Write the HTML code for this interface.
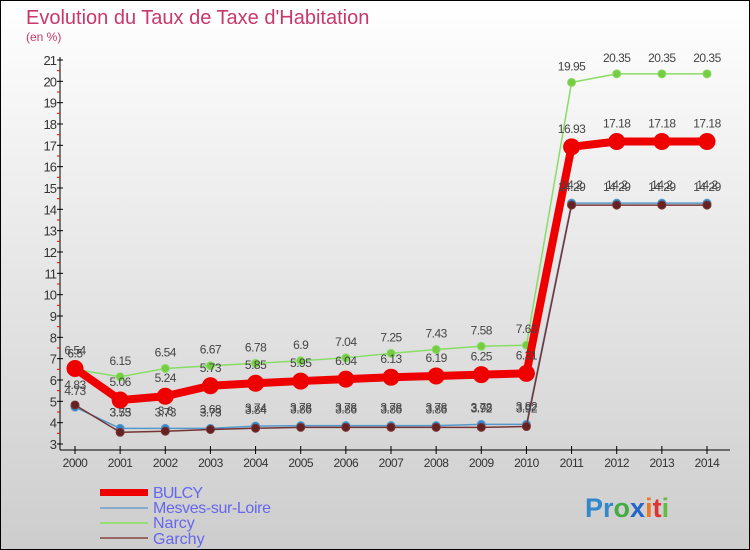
<!DOCTYPE html>
<html><head><meta charset="utf-8"><style>
body{margin:0;width:750px;height:550px;overflow:hidden;font-family:"Liberation Sans",sans-serif}
svg{display:block}
</style></head><body>
<svg id="c" width="750" height="550">
<defs><linearGradient id="bg" x1="0" y1="0" x2="0" y2="1"><stop offset="0" stop-color="#ffffff"/><stop offset="1" stop-color="#cdcdcd"/></linearGradient></defs>
<rect x="0.5" y="0.5" width="749" height="549" fill="url(#bg)" stroke="#000"/>
<text x="26" y="24" font-size="20" fill="#c8386a">Evolution du Taux de Taxe d'Habitation</text>
<text x="26" y="41" font-size="12" fill="#c8386a">(en %)</text>
<g id="axes"></g><g id="series"></g><g id="labels"></g>
<g>
<rect x="100" y="489" width="48" height="7" fill="#ee0000"/>
<text x="153" y="498" font-size="16" fill="#6666ee" textLength="50">BULCY</text>
<rect x="100" y="507" width="48" height="2" fill="#88aacc"/>
<text x="153" y="513" font-size="16" fill="#6666ee" textLength="118">Mesves-sur-Loire</text>
<rect x="100" y="522" width="48" height="2" fill="#99dd77"/>
<text x="153" y="528" font-size="16" fill="#6666ee">Narcy</text>
<rect x="100" y="537" width="48" height="2" fill="#996666"/>
<text x="153" y="544" font-size="16" fill="#6666ee">Garchy</text>
</g>
<text x="585" y="517" font-size="27" font-weight="bold"><tspan fill="#3388cc">Pr</tspan><tspan fill="#44aa44">o</tspan><tspan fill="#2266cc">x</tspan><tspan fill="#ee7722">i</tspan><tspan fill="#dd3333">t</tspan><tspan fill="#66bb44">i</tspan></text>
</svg>
<script>
const years=[2000,2001,2002,2003,2004,2005,2006,2007,2008,2009,2010,2011,2012,2013,2014];
const bulcy=[6.54,5.06,5.24,5.73,5.85,5.95,6.04,6.13,6.19,6.25,6.31,16.93,17.18,17.18,17.18];
const mesves=[4.73,3.73,3.73,3.73,3.84,3.86,3.86,3.86,3.86,3.92,3.92,14.29,14.29,14.29,14.29];
const narcy=[6.5,6.15,6.54,6.67,6.78,6.9,7.04,7.25,7.43,7.58,7.63,19.95,20.35,20.35,20.35];
const garchy=[4.83,3.55,3.6,3.68,3.74,3.78,3.78,3.78,3.78,3.78,3.82,14.2,14.2,14.2,14.2];
const yTicks=[3,4,5,6,7,8,9,10,11,12,13,14,15,16,17,18,19,20,21];
const NS="http://www.w3.org/2000/svg";
const X=i=>75+i*(707-75)/14;
const Y=v=>444-(v-3)*(444-60)/18;
function mk(t,a,p){const e=document.createElementNS(NS,t);for(const k in a)e.setAttribute(k,a[k]);p.appendChild(e);return e;}
const ax=document.getElementById('axes');
const yl=mk('line',{x1:60,y1:Y(21)-3,x2:60,y2:450,stroke:'#000'},ax);


const xl=mk('line',{x1:60,y1:450,x2:730,y2:450,stroke:'#000'},ax);


yTicks.forEach(v=>{
 mk('line',{x1:57,x2:63,y1:Y(v),y2:Y(v),stroke:'#000'},ax);
 if(v<21)mk('line',{x1:57,x2:60,y1:Y(v+0.5),y2:Y(v+0.5),stroke:'#e00'},ax);
 const t=mk('text',{x:56,y:Y(v)+5,'font-size':13,'text-anchor':'end',fill:'#333','letter-spacing':'-1'},ax);
 t.textContent=v;
 
 
});
years.forEach((y,i)=>{
 mk('line',{x1:X(i),x2:X(i),y1:446,y2:454,stroke:'#000'},ax);
 const t=mk('text',{x:X(i),y:467,'font-size':12,'text-anchor':'middle',fill:'#333','letter-spacing':'-0.5'},ax);
 t.textContent=y;
 
 
});
const sg=document.getElementById('series'),lg=document.getElementById('labels');
function series(d,color,w,r,dot,name,off){
 const pl=mk('polyline',{points:d.map((v,i)=>X(i)+','+Y(v)).join(' '),fill:'none',stroke:color,'stroke-width':w,'stroke-linejoin':'round'},sg);
 
 
 d.forEach((v,i)=>{
  const c=mk('circle',{cx:X(i),cy:Y(v),r:r,fill:dot,stroke:color,'stroke-width':1},sg);
  
  
  const t=mk('text',{x:X(i),y:Y(v)+off,'font-size':12,'text-anchor':'middle',fill:'#444','letter-spacing':'-0.5'},lg);
  t.textContent=v;
  
  
 });
}
series(mesves,'#5599cc',1.5,4,'#3388cc','mesves',-12);
series(garchy,'#773333',1.5,4,'#662222','garchy',-16);
series(narcy,'#88dd66',1.5,4,'#77cc44','narcy',-12);
series(bulcy,'#ee0000',8,8,'#ee0000','bulcy',-14);
</script>
</body></html>
